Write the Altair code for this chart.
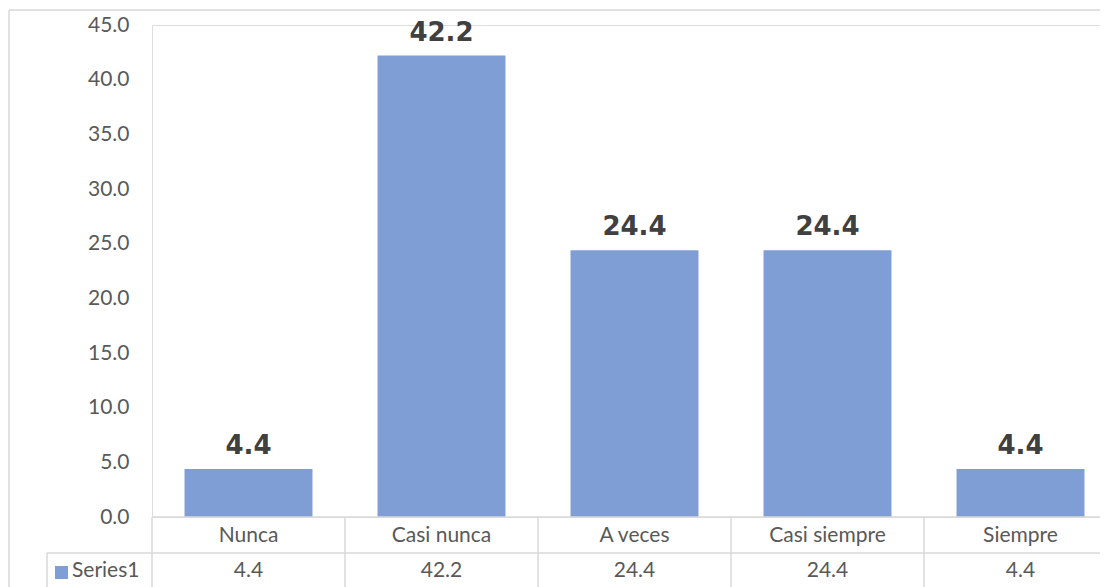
import altair as alt
import pandas as pd

categories = ["Nunca", "Casi nunca", "A veces", "Casi siempre", "Siempre"]
values = [4.4, 42.2, 24.4, 24.4, 4.4]
series_name = "Series1"
y_ticks = [0, 5, 10, 15, 20, 25, 30, 35, 40, 45]

df = pd.DataFrame({"cat": categories, "val": values})
one = pd.DataFrame({"k": [0]})

W, H = 965, 492
BAR_COLOR = "#7F9ED6"
GRID = "#D9D9D9"
FONT = "Lato"
FS = 21
TXT = "#595959"

xscale = alt.Scale(domain=categories, paddingInner=0, paddingOuter=0)
x = alt.X("cat:N", scale=xscale, axis=None, sort=categories)

base = alt.Chart(df)

bars = base.mark_bar(color=BAR_COLOR, width={"band": 0.663}).encode(
    x=x,
    y=alt.Y(
        "val:Q",
        scale=alt.Scale(domain=[0, 45], nice=False),
        axis=alt.Axis(
            values=y_ticks, format=".1f", title=None, domain=False, ticks=False,
            grid=False, labelFont=FONT, labelFontSize=FS, labelColor=TXT,
            labelPadding=23,
        ),
    ),
)

labels = base.mark_text(
    font="DejaVu Sans", fontWeight="bold", fontSize=26, color="#404040",
    baseline="bottom", dy=-10,
).encode(x=x, y="val:Q", text=alt.Text("val:Q", format=".1f"))

cat_row = base.mark_text(font=FONT, fontSize=FS, color=TXT, baseline="middle").encode(
    x=x, y=alt.value(H + 19), text="cat:N"
)
val_row = base.mark_text(font=FONT, fontSize=FS, color=TXT, baseline="middle").encode(
    x=x, y=alt.value(H + 54), text=alt.Text("val:Q", format=".1f")
)

col_lines = base.mark_rule(color=GRID, strokeWidth=1.5).encode(
    x=alt.X("cat:N", scale=xscale, axis=None, sort=categories, bandPosition=0),
    y=alt.value(H), y2=alt.value(H + 100),
)

o = alt.Chart(one)
h1 = o.mark_rule(color=GRID, strokeWidth=1.5).encode(x=alt.value(0), x2=alt.value(W + 20), y=alt.value(H))
h2 = o.mark_rule(color=GRID, strokeWidth=1.5).encode(x=alt.value(-105), x2=alt.value(W + 20), y=alt.value(H + 36))
v2 = o.mark_rule(color=GRID, strokeWidth=1.5).encode(x=alt.value(-105), y=alt.value(H + 36), y2=alt.value(H + 100))
frame_l = o.mark_rule(color=GRID, strokeWidth=1.5).encode(x=alt.value(-143), y=alt.value(-15), y2=alt.value(H + 100))
frame_t = o.mark_rule(color=GRID, strokeWidth=1.5).encode(x=alt.value(-143), x2=alt.value(W + 20), y=alt.value(-15))

key = o.mark_rect(color=BAR_COLOR).encode(
    x=alt.value(-97), x2=alt.value(-84), y=alt.value(H + 49), y2=alt.value(H + 62)
)
key_text = o.mark_text(font=FONT, fontSize=FS, color=TXT, align="left", baseline="middle").encode(
    x=alt.value(-80), y=alt.value(H + 54), text=alt.value(series_name)
)

chart = alt.layer(
    frame_l, frame_t, bars, labels, col_lines, h1, h2, v2, cat_row, val_row, key, key_text
).properties(
    width=W, height=H,
    autosize=alt.AutoSizeParams(type="none"),
    padding={"left": 144, "top": 17, "right": -17, "bottom": 70},
).configure_view(stroke=None).configure(background="white")

chart.save("out.html", embed_options={"renderer": "svg", "actions": False})
